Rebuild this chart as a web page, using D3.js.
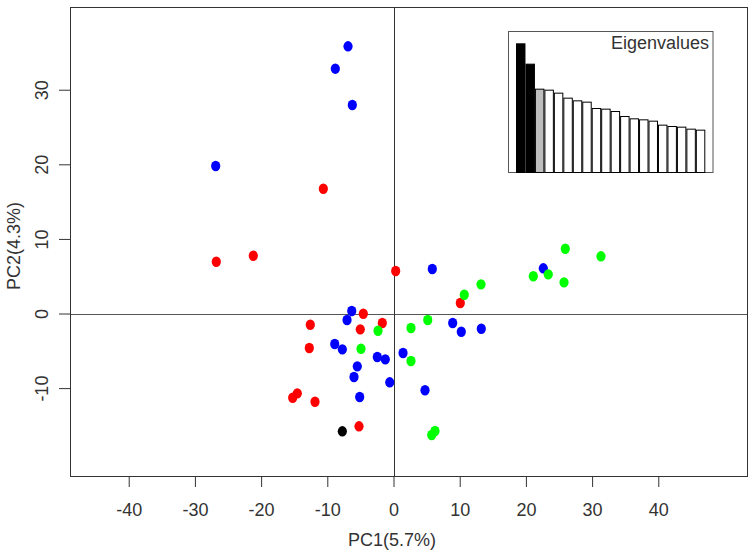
<!DOCTYPE html>
<html>
<head>
<meta charset="utf-8">
<script src="https://cdn.jsdelivr.net/npm/d3@7"></script>
<style>
  body { margin: 0; background: #fff; }
  svg { display: block; font-family: "Liberation Sans", Arial, sans-serif; }
</style>
</head>
<body>
<div class="container"></div>
<script>
const w = 754;
const h = 559;

// PCA scores (PC1, PC2)
const bluePC1 = [-6.87, -8.79, -6.22, -26.86, 5.86, -6.31, -7.02, 8.94, 10.24, 13.26, -8.88, -7.73, -2.45, -1.24, 1.44, -5.47, -5.97, -0.57, 4.76, -5.11, 22.63];
const bluePC2 = [35.82, 32.82, 27.95, 19.77, 5.97, 0.34, -0.87, -1.27, -2.44, -2.04, -4.09, -4.80, -5.83, -6.14, -5.29, -7.08, -8.51, -9.22, -10.29, -11.19, 6.06];
const redPC1 = [-10.60, -21.18, -26.77, 0.33, 10.09, -4.56, -12.57, -1.69, -5.02, -12.72, -15.23, -14.53, -11.86, -5.21];
const redPC2 = [16.73, 7.75, 6.94, 5.70, 1.41, -0.03, -1.50, -1.27, -2.12, -4.62, -11.29, -10.70, -11.82, -15.12];
const greenPC1 = [13.22, 10.69, -2.34, 2.64, 5.17, -4.91, 2.64, 5.77, 6.27, 21.12, 23.38, 25.95, 25.76, 31.34];
const greenPC2 = [3.91, 2.52, -2.31, -1.94, -0.87, -4.72, -6.37, -16.29, -15.75, 4.99, 5.25, 8.69, 4.18, 7.67];
const blackPC1 = [-7.73];
const blackPC2 = [-15.79];

const eigenvalues = [3.86, 3.25, 2.50, 2.47, 2.38, 2.23, 2.15, 2.11, 1.92, 1.90, 1.83, 1.68, 1.61, 1.58, 1.54, 1.42, 1.38, 1.36, 1.30, 1.27];

const xTicks = [-40, -30, -20, -10, 0, 10, 20, 30, 40];
const yTicks = [-10, 0, 10, 20, 30];

const groups = [
  {col: "#0000ff", xs: bluePC1, ys: bluePC2},
  {col: "#ff0000", xs: redPC1, ys: redPC2},
  {col: "#00ff00", xs: greenPC1, ys: greenPC2},
  {col: "#000000", xs: blackPC1, ys: blackPC2}
];

const svg = d3.select(".container").append("svg")
  .attr("width", w)
  .attr("height", h);

const pLeft = 70, pRight = 747, pTop = 7, pBottom = 476;

const xScale = d3.scaleLinear().domain([-48.87, 53.4]).range([pLeft, pRight]);
const yScale = d3.scaleLinear().domain([-21.78, 41.09]).range([pBottom, pTop]);

// zero lines
svg.append("line")
  .attr("x1", pLeft).attr("x2", pRight)
  .attr("y1", Math.round(yScale(0)) + 0.5).attr("y2", Math.round(yScale(0)) + 0.5)
  .attr("stroke", "#555");
svg.append("line")
  .attr("x1", Math.round(xScale(0)) + 0.5).attr("x2", Math.round(xScale(0)) + 0.5)
  .attr("y1", pTop).attr("y2", pBottom)
  .attr("stroke", "#333");

// points
groups.forEach(g => {
  svg.append("g").selectAll("ellipse")
    .data(g.xs.map((x, i) => [x, g.ys[i]]))
    .enter()
    .append("ellipse")
    .attr("cx", d => xScale(d[0]))
    .attr("cy", d => yScale(d[1]))
    .attr("rx", 4.6)
    .attr("ry", 5.2)
    .attr("fill", g.col);
});

// axes (plain hyphen for negatives, like R)
const fmt = d => String(d);
const xAxis = d3.axisBottom(xScale).tickValues(xTicks).tickFormat(fmt).tickSize(11).tickPadding(16);
const gx = svg.append("g")
  .attr("transform", "translate(0," + pBottom + ")")
  .call(xAxis);
gx.select(".domain").remove();
gx.selectAll("line").attr("stroke", "#333");
gx.selectAll("text").attr("font-size", 18).attr("fill", "#333");

const yAxis = d3.axisLeft(yScale).tickValues(yTicks).tickFormat(fmt).tickSize(11);
const gy = svg.append("g")
  .attr("transform", "translate(" + pLeft + ",0)")
  .call(yAxis);
gy.select(".domain").remove();
gy.selectAll("line").attr("stroke", "#333");
gy.selectAll("text")
  .attr("font-size", 18).attr("fill", "#333")
  .attr("transform", "rotate(-90)")
  .attr("x", 0).attr("y", -22).attr("dy", 0)
  .attr("text-anchor", "middle");

// frame
svg.append("rect")
  .attr("x", pLeft + 0.5).attr("y", pTop + 0.5)
  .attr("width", pRight - pLeft).attr("height", pBottom - pTop)
  .attr("fill", "none").attr("stroke", "#333");

// axis titles
svg.append("text")
  .attr("x", 392).attr("y", 546)
  .attr("text-anchor", "middle")
  .attr("font-size", 18).attr("fill", "#333")
  .text("PC1(5.7%)");
svg.append("text")
  .attr("transform", "translate(20,246) rotate(-90)")
  .attr("text-anchor", "middle")
  .attr("font-size", 18).attr("fill", "#333")
  .text("PC2(4.3%)");

// eigenvalue inset
const ix0 = 508.5, ix1 = 713, iy0 = 31.5, iy1 = 172.5;
const inset = svg.append("g");
inset.append("rect")
  .attr("x", ix0).attr("y", iy0)
  .attr("width", ix1 - ix0).attr("height", iy1 - iy0)
  .attr("fill", "#fff").attr("stroke", "#555");

const eBand = d3.scaleBand().domain(d3.range(eigenvalues.length)).range([516, 705.3]).padding(0);
const eScale = d3.scaleLinear().domain([0, 4.23]).range([iy1, iy0]);

inset.selectAll(".eig")
  .data(eigenvalues)
  .enter()
  .append("rect")
  .attr("class", "eig")
  .attr("x", (d, i) => eBand(i) + 0.5)
  .attr("y", d => eScale(d))
  .attr("width", eBand.bandwidth() - 1)
  .attr("height", d => iy1 - eScale(d))
  .attr("fill", (d, i) => i < 2 ? "#000" : (i === 2 ? "#bebebe" : "#fff"))
  .attr("stroke", "#000");

inset.append("text")
  .attr("x", 709).attr("y", 49)
  .attr("text-anchor", "end")
  .attr("font-size", 18).attr("fill", "#333")
  .text("Eigenvalues");
</script>
</body>
</html>
